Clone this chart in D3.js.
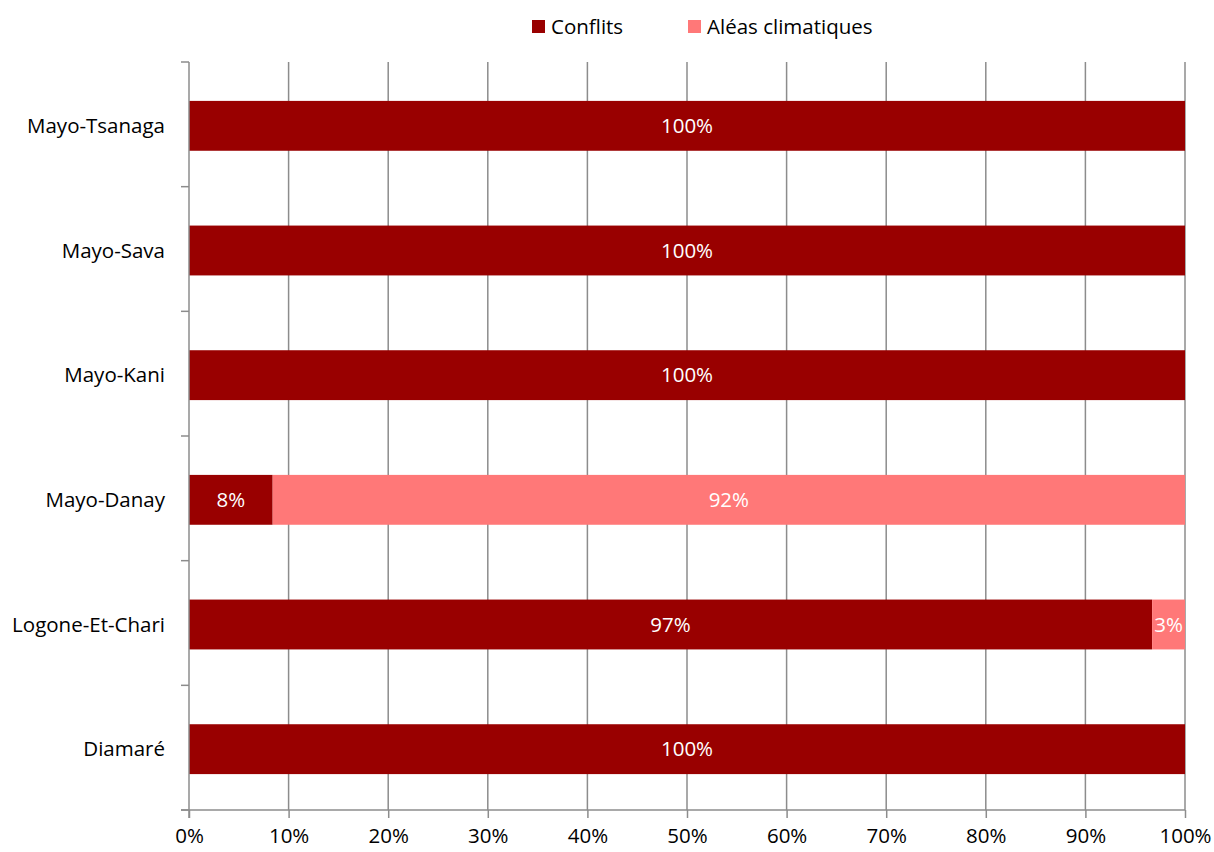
<!DOCTYPE html>
<html>
<head>
<meta charset="utf-8">
<script src="https://cdn.jsdelivr.net/npm/d3@7"></script>
<style>
  body { margin: 0; background: #fff; }
  svg text { font-family: "Open Sans", Lato, sans-serif; }
</style>
</head>
<body>
<svg id="chart" width="1214" height="852"></svg>
<script>
// Share of displacement causes by department (fractions of 1)
const departments = ["Mayo-Tsanaga", "Mayo-Sava", "Mayo-Kani", "Mayo-Danay", "Logone-Et-Chari", "Diamaré"];
const conflits = [1.00, 1.00, 1.00, 0.084, 0.967, 1.00];
const aleas = [0.00, 0.00, 0.00, 0.916, 0.033, 0.00];
const seriesNames = ["Conflits", "Aléas climatiques"];
const seriesColors = ["#990000", "#FF7878"];
const xTicks = [0, 0.1, 0.2, 0.3, 0.4, 0.5, 0.6, 0.7, 0.8, 0.9, 1.0];

const FONT = 20.5;
const svg = d3.select("#chart");
const margin = { top: 62, right: 29, bottom: 42, left: 189 };
const W = 1214, H = 852;
const innerW = W - margin.left - margin.right;
const innerH = H - margin.top - margin.bottom;

const rows = departments.map((d, i) => ({ dept: d, Conflits: conflits[i], "Aléas climatiques": aleas[i] }));
const stacked = d3.stack().keys(seriesNames)(rows);

const x = d3.scaleLinear().domain([0, 1]).range([0, innerW]);
const y = d3.scaleBand().domain(departments).range([0, innerH]).paddingInner(0.6).paddingOuter(0.3);

const g = svg.append("g").attr("transform", `translate(${margin.left},${margin.top})`);

// vertical gridlines
g.append("g").selectAll("line").data(xTicks.slice(1)).join("line")
  .attr("x1", d => x(d)).attr("x2", d => x(d))
  .attr("y1", 0).attr("y2", innerH)
  .attr("stroke", "#8c8c8c").attr("stroke-width", 1.5);

// bars
const layer = g.selectAll(".series").data(stacked).join("g")
  .attr("fill", (d, i) => seriesColors[i]);
layer.selectAll("rect").data(d => d.filter(s => s[1] - s[0] > 0).map(s => ({ s, key: d.key })))
  .join("rect")
  .attr("x", d => x(d.s[0]))
  .attr("width", d => x(d.s[1]) - x(d.s[0]))
  .attr("y", d => y(d.s.data.dept) + 1.5)
  .attr("height", y.bandwidth());

// value labels
const fmt = d3.format(".0%");
layer.selectAll("text").data(d => d.filter(s => s[1] - s[0] > 0).map(s => ({ s, key: d.key })))
  .join("text")
  .attr("x", d => (x(d.s[0]) + x(d.s[1])) / 2)
  .attr("y", d => y(d.s.data.dept) + 1.5 + y.bandwidth() / 2)
  .attr("dy", "0.35em")
  .attr("text-anchor", "middle")
  .attr("fill", "#fff")
  .attr("font-size", FONT)
  .text(d => fmt(d.s[1] - d.s[0]));

// x axis
const xAxis = g.append("g").attr("transform", `translate(0,${innerH})`)
  .call(d3.axisBottom(x).tickValues(xTicks).tickFormat(d3.format(".0%")).tickSize(8).tickSizeOuter(0));
xAxis.select(".domain").attr("stroke", "#8c8c8c").attr("stroke-width", 1.5)
  .attr("d", `M-8,0H${innerW}`);
xAxis.selectAll(".tick line").attr("stroke", "#8c8c8c").attr("stroke-width", 1.5);
xAxis.selectAll(".tick text").attr("font-size", FONT).attr("fill", "#000").attr("dy", "1.05em")
  .style("font-family", "'Open Sans', Lato, sans-serif");

// y axis with tick marks at band boundaries
const yAxisG = g.append("g");
yAxisG.append("line").attr("x1", 0).attr("x2", 0).attr("y1", 0).attr("y2", innerH + 8)
  .attr("stroke", "#8c8c8c").attr("stroke-width", 1.5);
const bounds = d3.range(departments.length + 1).map(i => i * innerH / departments.length);
yAxisG.selectAll(".yt").data(bounds).join("line")
  .attr("x1", -8).attr("x2", 0).attr("y1", d => d).attr("y2", d => d)
  .attr("stroke", "#8c8c8c").attr("stroke-width", 1.5);
yAxisG.selectAll(".yl").data(departments).join("text")
  .attr("x", -24)
  .attr("y", d => y(d) + 1.5 + y.bandwidth() / 2)
  .attr("dy", "0.35em")
  .attr("text-anchor", "end")
  .attr("font-size", FONT)
  .attr("fill", "#000")
  .text(d => d);

// legend
const legendX = [532, 688];
const legend = svg.append("g").selectAll("g").data(seriesNames).join("g")
  .attr("transform", (d, i) => `translate(${legendX[i]},20)`);
legend.append("rect").attr("width", 13).attr("height", 13).attr("fill", (d, i) => seriesColors[i]);
legend.append("text").attr("x", 19).attr("y", 6.5).attr("dy", "0.35em")
  .attr("font-size", FONT).attr("fill", "#000").text(d => d);
</script>
</body>
</html>
